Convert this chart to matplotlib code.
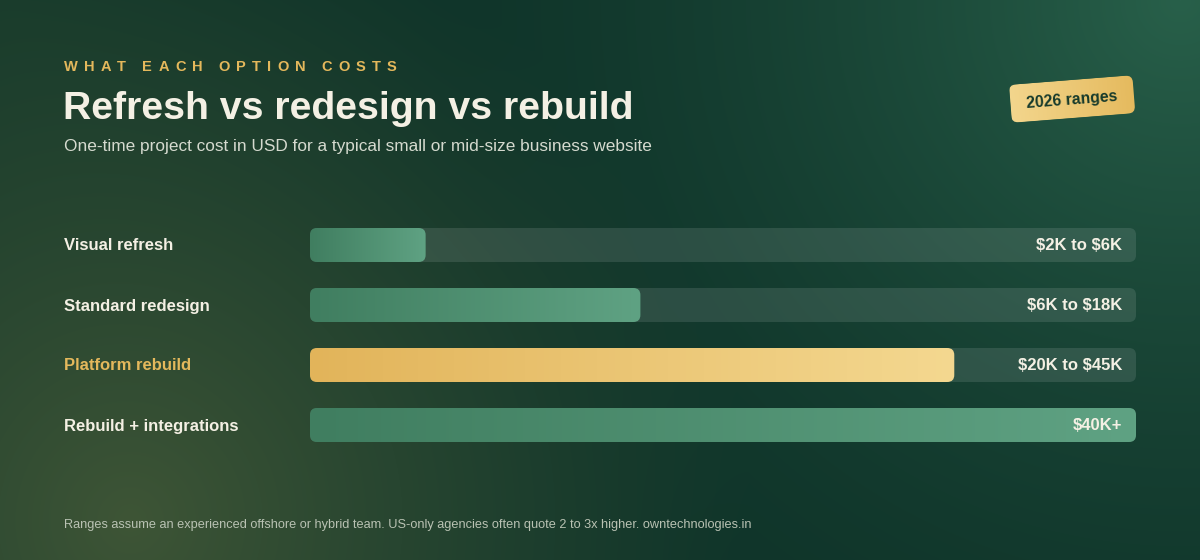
import numpy as np
import matplotlib
matplotlib.use("Agg")
import matplotlib.pyplot as plt
from matplotlib.patches import FancyBboxPatch
from matplotlib.colors import LinearSegmentedColormap, to_rgb
import matplotlib.transforms as mtransforms

plt.rcParams['font.family'] = ['Liberation Sans', 'DejaVu Sans']

# data
options = ['Visual refresh', 'Standard redesign', 'Platform rebuild', 'Rebuild + integrations']
fill_pct = [14, 40, 78, 100]
range_labels = ['$2K to $6K', '$6K to $18K', '$20K to $45K', '$40K+']
highlight = 'Platform rebuild'

kicker = 'WHAT EACH OPTION COSTS'
title = 'Refresh vs redesign vs rebuild'
subtitle = 'One-time project cost in USD for a typical small or mid-size business website'
badge = '2026 ranges'
footer = ('Ranges assume an experienced offshore or hybrid team. '
          'US-only agencies often quote 2 to 3x higher. owntechnologies.in')

W, H = 1200, 560
fig = plt.figure(figsize=(12, 5.6), dpi=100)

# background gradient
bg = fig.add_axes([0, 0, 1, 1])
yy, xx = np.mgrid[0:H, 0:W]
base = np.array(to_rgb('#10352a'))
img = np.ones((H, W, 3)) * base
def glow(cx, cy, r, col, strength, p=1.6):
    d = np.sqrt((xx - cx) ** 2 + (yy - cy) ** 2) / r
    w = np.clip(1 - d, 0, 1) ** p * strength
    return w[..., None] * (np.array(to_rgb(col)) - base)
img += glow(1180, 0, 750, '#28604a', 1.0)
img += glow(130, 520, 620, '#3e5536', 1.0, 1.2)
img += glow(0, 0, 500, '#1a3d2c', 0.6)
img = np.clip(img, 0, 1)
bg.imshow(img, extent=[0, W, H, 0], aspect='auto', zorder=0)
bg.axis('off')

cream = '#f4f0e4'
gold = '#e4b85c'

# kicker with letter spacing
renderer = fig.canvas.get_renderer()
x = 64
for ch in kicker:
    t = bg.text(x, 71, ch, color=gold, fontsize=10.5, fontweight='bold',
                va='baseline', ha='left')
    w = 4.0 if ch == ' ' else t.get_window_extent(renderer=renderer).width
    x += w + 6.1

bg.text(63, 119, title, color=cream, fontsize=28.3, fontweight='bold',
        va='baseline', ha='left')
bg.text(64, 151, subtitle, color='#d5dacf', fontsize=12.4, va='baseline', ha='left')
bg.text(64, 528, footer, color='#b9c2b3', fontsize=9.2, va='baseline', ha='left')

# badge
bw, bh = 124, 38
bcx, bcy = 1072, 99
badge_tr = mtransforms.Affine2D().rotate_deg_around(bcx, bcy, -4.5) + bg.transData
bpatch = FancyBboxPatch((bcx - bw / 2, bcy - bh / 2), bw, bh,
                        boxstyle='round,pad=0,rounding_size=7',
                        facecolor='none', edgecolor='none', transform=badge_tr)
bg.add_patch(bpatch)
bcmap = LinearSegmentedColormap.from_list('badge', ['#f3d68d', '#e5ba5e'])
bim = bg.imshow(np.linspace(0, 1, 256).reshape(1, -1), cmap=bcmap,
                extent=[bcx - bw / 2, bcx + bw / 2, bcy + bh / 2, bcy - bh / 2],
                aspect='auto', transform=badge_tr, zorder=2)
bim.set_clip_path(bpatch)
bg.text(bcx, bcy + 1, badge, color='#163a2b', fontsize=11.3, fontweight='bold',
        ha='center', va='center', rotation=4.5, rotation_mode='anchor', zorder=3)
bg.set_xlim(0, W)
bg.set_ylim(H, 0)

# bars
ax = fig.add_axes([310 / W, (H - 455) / H, 826 / W, 240 / H])
ax.axis('off')
ax.patch.set_alpha(0)

bar_h = 34 / 60
px_x = 100 / 826
px_y = 1 / 60
aspect = px_y / px_x
rs = 7 * px_x

green_cmap = LinearSegmentedColormap.from_list('g', ['#407e60', '#5fa283'])
gold_cmap = LinearSegmentedColormap.from_list('y', ['#e2b45a', '#f4d890'])

for i, (name, pct, lab) in enumerate(zip(options, fill_pct, range_labels)):
    track = FancyBboxPatch((0, i - bar_h / 2), 100, bar_h,
                           boxstyle=f'round,pad=0,rounding_size={rs}',
                           mutation_aspect=aspect,
                           facecolor='white', alpha=0.11, edgecolor='none', zorder=1)
    ax.add_patch(track)
    fill = FancyBboxPatch((0, i - bar_h / 2), pct, bar_h,
                          boxstyle=f'round,pad=0,rounding_size={rs}',
                          mutation_aspect=aspect,
                          facecolor='none', edgecolor='none', zorder=2)
    ax.add_patch(fill)
    cmap = gold_cmap if name == highlight else green_cmap
    im = ax.imshow(np.linspace(0, 1, 256).reshape(1, -1), cmap=cmap,
                   extent=[0, pct, i + bar_h / 2, i - bar_h / 2],
                   aspect='auto', zorder=2)
    im.set_clip_path(fill)
    ax.annotate(lab, xy=(100, i), xytext=(-14, -1), textcoords='offset pixels',
                ha='right', va='center', color=cream, fontsize=12,
                fontweight='bold', zorder=3, parse_math=False)
    ax.annotate(name, xy=(0, i), xytext=(-246, -1), textcoords='offset pixels',
                ha='left', va='center', fontsize=12, fontweight='bold',
                color=gold if name == highlight else cream, zorder=3,
                annotation_clip=False)

ax.set_xlim(0, 100)
ax.set_ylim(len(options) - 0.5, -0.5)

fig.savefig('out.png', dpi=100)
